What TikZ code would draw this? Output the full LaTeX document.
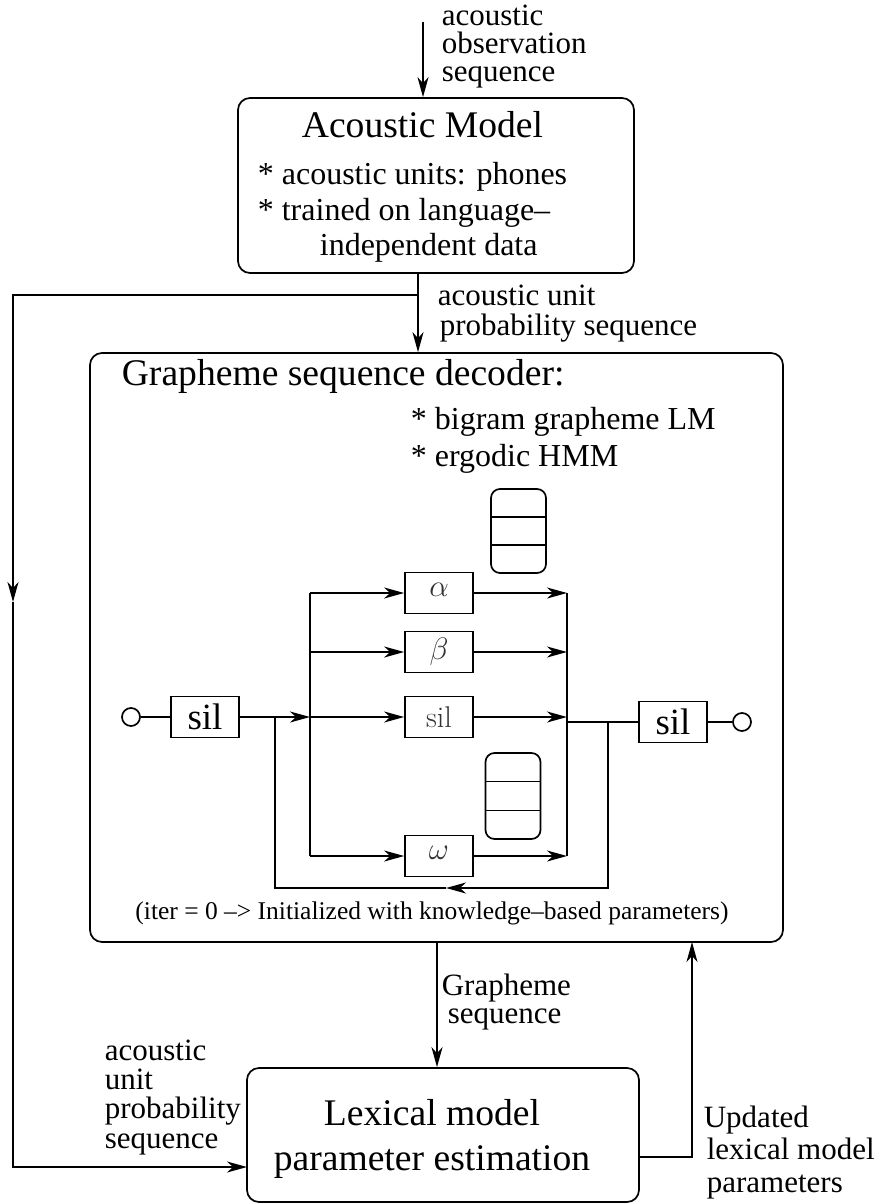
\RequirePackage{fix-cm}
\documentclass[tikz,border=0pt]{standalone}
\usepackage{fontspec}
\setmainfont{Liberation Serif}
\newfontfamily\lmr{Latin Modern Roman}
\usetikzlibrary{arrows.meta,calc}

\begin{document}
\begin{tikzpicture}[x=1pt,y=-1pt,line width=1.7pt,
  tip/.style={-{Stealth[length=20pt,width=11pt,inset=6pt]}},
  roundbox/.style={draw,rounded corners=12pt,inner sep=0pt},
  stackbox/.style={draw,rounded corners=9pt,inner sep=0pt},
  unitbox/.style={draw,minimum width=68pt,minimum height=41pt,inner sep=0pt},
  port/.style={draw,circle,minimum size=18pt,inner sep=0pt},
  bigtext/.style={inner sep=0pt,font=\fontsize{37.6}{45}\selectfont,align=center},
  bodytext/.style={inner sep=0pt,font=\fontsize{32}{35}\selectfont},
  lbl/.style={inner sep=0pt,font=\fontsize{31}{#1}\selectfont,align=left},
  note/.style={inner sep=0pt,font=\fontsize{25.5}{30}\selectfont},
  sym/.style={inner sep=0pt,font=\lmr\fontsize{30}{32}\selectfont,text=black!80},
  greek/.style={inner sep=0pt,font=\fontsize{31}{33}\selectfont,text=black!80},
  symsil/.style={inner sep=0pt,font=\fontsize{37}{40}\selectfont}
]
\useasboundingbox (0,0) rectangle (881,1204);

% ---------- acoustic model ----------
\node[roundbox,minimum width=396pt,minimum height=175pt] (am) at (436,185.5) {};
\node[bigtext,anchor=base] (amtitle) at (422.5,138) {Acoustic Model};
\node[bodytext,anchor=base west] (am1) at (257,184) {* acoustic units: phones};
\node[bodytext,anchor=base west] (am2) at (257,220) {* trained on language--};
\node[bodytext,anchor=base west] (am3) at (319,255) {independent data};

\coordinate (obs) at (423,22);
\draw[tip] (obs) -- (obs |- am.north);
\node[lbl=28,anchor=base west] (obslbl) at (441,82) {acoustic\\observation\\sequence};

% ---------- grapheme sequence decoder ----------
\node[roundbox,minimum width=693pt,minimum height=589pt] (dec) at (436.5,647.5) {};
\node[bigtext,anchor=base west] (dectitle) at (121,385) {Grapheme sequence decoder:};
\node[bodytext,anchor=base west] (dec1) at (410,429) {* bigram grapheme LM};
\node[bodytext,anchor=base west] (dec2) at (410,466) {* ergodic HMM};

\coordinate (amo) at (418,273);
\draw[tip] (amo) -- (amo |- dec.north);
\node[lbl=30,anchor=base west] (aplbl) at (437,335) {acoustic unit\\\hspace*{2pt}probability sequence};

% branch towards the lexical model
\coordinate (br) at (418,295);
\coordinate (down) at (13,602);
\coordinate (lexin) at (247,1167);
\draw[tip] (br) -| (down);
\draw[tip] (down) |- (lexin);

% stacked placeholders
\node[stackbox,minimum width=55pt,minimum height=84pt] (stk1) at (518.5,531) {};
\draw ($(stk1.north west)!1/3!(stk1.south west)$) -- ($(stk1.north east)!1/3!(stk1.south east)$);
\draw ($(stk1.north west)!2/3!(stk1.south west)$) -- ($(stk1.north east)!2/3!(stk1.south east)$);
\node[stackbox,minimum width=55pt,minimum height=86pt] (stk2) at (513,796) {};
\draw ($(stk2.north west)!1/3!(stk2.south west)$) -- ($(stk2.north east)!1/3!(stk2.south east)$);
\draw ($(stk2.north west)!2/3!(stk2.south west)$) -- ($(stk2.north east)!2/3!(stk2.south east)$);

% silence models and ports
\node[port] (pin) at (131,717) {};
\node[unitbox] (sil1) at (205,717) {};
\node[symsil] (sil1t) at (sil1) {sil};
\node[unitbox] (sil2) at (673,722) {};
\node[symsil] (sil2t) at (sil2) {sil};
\node[port] (pout) at (742,722) {};
\draw (pin) -- (sil1);
\draw (sil2) -- (pout);

% grapheme units
\node[unitbox] (ga) at (439,593) {};
\node[greek] at ([yshift=3pt]ga) {$\alpha$};
\node[unitbox] (gb) at (439,652) {};
\node[greek] at (gb) {$\beta$};
\node[unitbox] (gs) at (439,717) {};
\node[sym] at (gs) {sil};
\node[unitbox] (gw) at (439,856) {};
\node[greek] at ([yshift=3pt]gw) {$\omega$};

% input and output buses
\coordinate (busL) at (310,717);
\coordinate (busLt) at (310,593);
\coordinate (busLb) at (310,856);
\coordinate (busRt) at (567,593);
\coordinate (busRb) at (567,856);
\coordinate (busRo) at (567,722);
\draw[tip] (sil1) -- (busL);
\draw (busLt) -- (busLb);
\draw (busRt) -- (busRb);
\foreach \g in {ga,gb,gs,gw}{
  \draw[tip] (busLt |- \g) -- (\g);
  \draw[tip] (\g) -- (busRt |- \g);
}
\draw (busRo) -- (sil2);

% loop back
\coordinate (fbR) at (608,722);
\coordinate (fbRb) at (608,888);
\coordinate (fbM) at (446,888);
\coordinate (fbLb) at (275,888);
\coordinate (fbL) at (275,717);
\draw[tip] (fbR) -- (fbRb) -- (fbM);
\draw (fbM) -- (fbLb) -- (fbL);

\node[note,anchor=base] (iter) at (432,919) {(iter = 0 --> Initialized with knowledge--based parameters)};

% ---------- lexical model parameter estimation ----------
\node[roundbox,minimum width=392pt,minimum height=134pt] (lex) at (443,1135) {};
\node[bigtext,anchor=base] (lext) at (432,1170) {Lexical model\\parameter estimation};

\coordinate (gout) at (437,942);
\draw[tip] (gout) -- (gout |- lex.north);
\node[lbl=28,anchor=base west] (glbl) at (441,1023) {Grapheme\\\hspace*{6pt}sequence};

\node[lbl=29.3,anchor=base west] (aplbl2) at (104,1148) {acoustic\\unit\\probability\\sequence};

\coordinate (lexout) at (639,1157);
\coordinate (upd) at (692,942);
\draw[tip] (lexout) -| (upd);
\node[lbl=32.5,anchor=base west] (updlbl) at (703,1192) {Updated\\\hspace*{3pt}lexical model\\\hspace*{3pt}parameters};
\end{tikzpicture}
\end{document}
